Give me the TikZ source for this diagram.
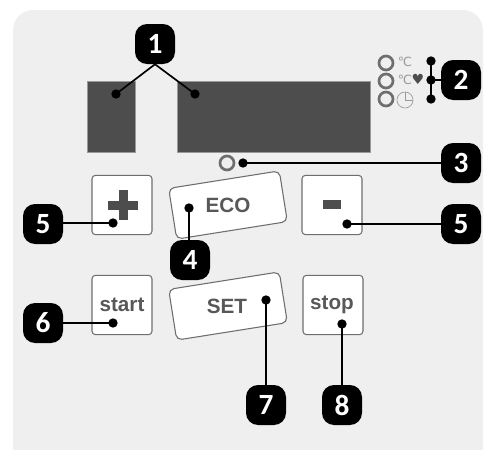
\documentclass[tikz,border=0pt]{standalone}
\usepackage{fontspec}
\setsansfont{Liberation Sans}
\newfontfamily\iconfont{DejaVu Sans}
\newfontfamily\badgefont{Carlito}
\definecolor{panelgray}{HTML}{EFEFEF}
\definecolor{darkgray}{HTML}{4D4D4D}
\definecolor{keygray}{HTML}{6E6E6E}
\begin{document}
\begin{tikzpicture}
    [
        x=0.75pt, y=-0.75pt,
        display/.style={fill=darkgray, draw=gray!80, line width=0.4pt, inner sep=0pt},
        key/.style={rectangle, rounded corners=2.6pt, draw=keygray, fill=white, line width=0.8pt,
            minimum width=45pt, minimum height=44.5pt, inner sep=0pt},
        widekey/.style={key, rounded corners=4pt, minimum width=84pt, minimum height=38.5pt, rotate=9},
        keytext/.style={inner sep=0pt, text=keygray!80!black,
            font=\sffamily\bfseries\fontsize{15.5}{17}\selectfont},
        badge/.style={rectangle, rounded corners=9pt, fill=black, minimum size=30pt, inner sep=0pt,
            text=white, font=\badgefont\bfseries\fontsize{22}{24}\selectfont},
        dot/.style={circle, fill=black, minimum size=7pt, inner sep=0pt},
        led/.style={circle, draw=keygray, line width=2pt, minimum size=10.5pt, inner sep=0pt},
        icon/.style={text=gray!80, inner sep=0pt, font=\iconfont\fontsize{9.5}{10}\selectfont},
        wire/.style={line width=1.25pt},
    ]

    \useasboundingbox (0,0) rectangle (487,450);

    % panel
    \fill [panelgray, rounded corners=15pt] (13,470) -- (13,10) -- (483,10) -- (483,470) -- cycle;

    % displays
    \node (dispa) at (111,116.5)   [display, minimum width=36pt, minimum height=53.2pt] {};
    \node (dispb) at (273.5,116.5) [display, minimum width=144.7pt, minimum height=53.2pt] {};

    % status lamps
    \node (ledu) at (386,63)  [led] {};
    \node (ledm) at (386,81)  [led] {};
    \node (ledl) at (386,99)  [led] {};
    \node (ledc) at (227,163) [led] {};

    \node (tempa) at (405,62) [icon] {℃};
    \node (tempb) at (405,80) [icon] {℃};
    \node (heart) at (418,79) [icon, text=darkgray, font=\iconfont\fontsize{10.5}{11}\selectfont] {♥};
    \node (clock) at (405,100) [circle, draw=gray!80, line width=0.5pt, minimum size=12pt, inner sep=0pt] {};
    \draw [gray!80, line width=0.5pt] (clock.center) -- (clock.north);
    \draw [gray!80, line width=0.5pt] (clock.center) -- (clock.east);

    % keys
    \node (plus)  at (122,205)   [key] {};
    \node (minus) at (332,205)   [key] {};
    \node (start) at (122,305)   [key] {};
    \node (stop)  at (333,305)   [key] {};
    \node (eco)   at (228,205)   [widekey] {};
    \node (set)   at (228,306)   [widekey] {};

    \node (startl) at (122,305) [keytext] {start};
    \node (stopl)  at (332,305) [keytext] {stop};
    \node (ecol)   at (228,205) [keytext] {ECO};
    \node (setl)   at (227,306) [keytext] {SET};

    \fill [darkgray] (108,201) rectangle (137.5,209.5);
    \fill [darkgray] (118.5,190) rectangle (127.5,220);
    \fill [darkgray] (323,200) rectangle (341,209);

    % callouts
    \node (ba) at (155,44)  [badge] {1};
    \node (bb) at (461,80)  [badge] {2};
    \node (bc) at (461,163) [badge] {3};
    \node (bd) at (190,260) [badge] {4};
    \node (be) at (43,224)  [badge] {5};
    \node (bf) at (461,224) [badge] {5};
    \node (bg) at (43,323)  [badge] {6};
    \node (bh) at (266,405) [badge] {7};
    \node (bi) at (342,405) [badge] {8};

    \node (da) at (116,94)  [dot] {};
    \node (db) at (195,94)  [dot] {};
    \node (dc) at (431,61)  [dot] {};
    \node (dd) at (431,80)  [dot] {};
    \node (de) at (431,99)  [dot] {};
    \node (df) at (243,163) [dot] {};
    \node (dg) at (189,208) [dot] {};
    \node (dh) at (113,223) [dot] {};
    \node (di) at (347,224) [dot] {};
    \node (dj) at (113,323) [dot] {};
    \node (dk) at (266,300) [dot] {};
    \node (dl) at (342,324) [dot] {};

    \draw [wire] (ba.south) -- (da.center);
    \draw [wire] (ba.south) -- (db.center);
    \draw [wire] (dc.center) -- (de.center);
    \draw [wire] (dd.center) -- (bb.west);
    \draw [wire] (df.center) -- (bc.west);
    \draw [wire] (dg.center) -- (bd.north -| dg.center);
    \draw [wire] (dh.center) -- (be.east |- dh.center);
    \draw [wire] (di.center) -- (bf.west |- di.center);
    \draw [wire] (dj.center) -- (bg.east |- dj.center);
    \draw [wire] (dk.center) -- (bh.north);
    \draw [wire] (dl.center) -- (bi.north);

\end{tikzpicture}
\end{document}
